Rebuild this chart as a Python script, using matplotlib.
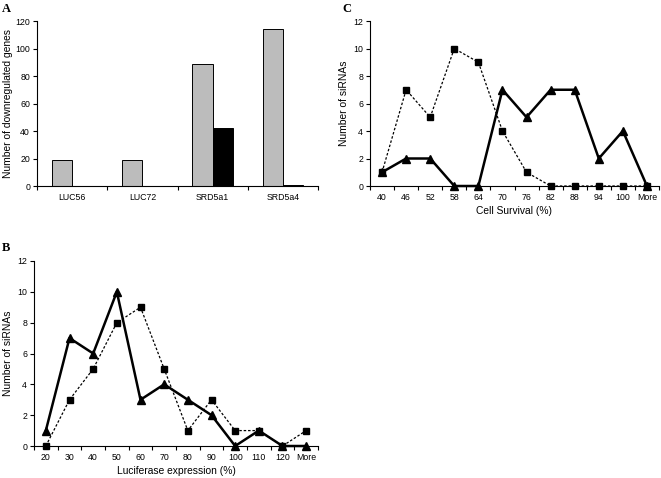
import numpy as np
import matplotlib
matplotlib.use("Agg")
import matplotlib.pyplot as plt

plt.rcParams['font.family'] = ['Liberation Sans', 'DejaVu Sans']

# Panel A data
genes = ['LUC56', 'LUC72', 'SRD5a1', 'SRD5a4']
gray_counts = [19, 19, 89, 114]
black_counts = [0, 0, 42, 1]

# Panel B data
lucif_labels = ['20', '30', '40', '50', '60', '70', '80', '90', '100', '110', '120', 'More']
lucif_squares = [0, 3, 5, 8, 9, 5, 1, 3, 1, 1, 0, 1]
lucif_triangles = [1, 7, 6, 10, 3, 4, 3, 2, 0, 1, 0, 0]

# Panel C data
surv_labels = ['40', '46', '52', '58', '64', '70', '76', '82', '88', '94', '100', 'More']
surv_squares = [1, 7, 5, 10, 9, 4, 1, 0, 0, 0, 0, 0]
surv_triangles = [1, 2, 2, 0, 0, 7, 5, 7, 7, 2, 4, 0]

W, H = 661, 478
fig = plt.figure(figsize=(W / 100, H / 100), dpi=100)

TICK_FS = 6.3
LABEL_FS = 7.4


def px_axes(x0, y0, x1, y1):
    return fig.add_axes([x0 / W, 1 - y1 / H, (x1 - x0) / W, (y1 - y0) / H])


def style(ax):
    for s in ['top', 'right']:
        ax.spines[s].set_visible(False)
    for s in ['left', 'bottom']:
        ax.spines[s].set_linewidth(0.8)
    ax.tick_params(axis='both', which='major', direction='out', length=3,
                   width=0.8, labelsize=TICK_FS, pad=2)


def category_axis(ax, labels):
    n = len(labels)
    ax.set_xlim(-0.5, n - 0.5)
    ax.set_xticks(np.arange(n + 1) - 0.5)
    ax.set_xticklabels([])
    ax.set_xticks(np.arange(n), minor=True)
    ax.set_xticklabels(labels, minor=True, fontsize=TICK_FS)
    ax.tick_params(axis='x', which='minor', length=0, pad=5)


# ---- A ----
axA = px_axes(37, 21, 318, 186)
x = np.arange(len(genes))
bw = 0.29
axA.bar(x - bw / 2, gray_counts, bw, color='#bcbcbc', edgecolor='black', linewidth=0.7)
axA.bar(x + bw / 2, black_counts, bw, color='black', edgecolor='black', linewidth=0.7)
axA.set_ylim(0, 120)
axA.set_yticks(range(0, 121, 20))
style(axA)
category_axis(axA, genes)
axA.set_ylabel('Number of downregulated genes', fontsize=LABEL_FS, labelpad=2)


def line_panel(ax, labels, squares, triangles, xlabel):
    xs = np.arange(len(labels))
    ax.plot(xs, squares, color='black', linestyle=(0, (2, 1.5)), linewidth=0.9,
            marker='s', markersize=4, clip_on=False, zorder=3)
    ax.plot(xs, triangles, color='black', linestyle='-', linewidth=1.8,
            marker='^', markersize=6, clip_on=False, zorder=4)
    ax.set_ylim(0, 12)
    ax.set_yticks(range(0, 13, 2))
    style(ax)
    category_axis(ax, labels)
    ax.set_ylabel('Number of siRNAs', fontsize=LABEL_FS, labelpad=3)
    ax.set_xlabel(xlabel, fontsize=LABEL_FS, labelpad=3)


# ---- B ----
axB = px_axes(34, 261, 318, 446)
line_panel(axB, lucif_labels, lucif_squares, lucif_triangles, 'Luciferase expression (%)')

# ---- C ----
axC = px_axes(370, 21, 659, 186)
line_panel(axC, surv_labels, surv_squares, surv_triangles, 'Cell Survival (%)')

# panel letters
for lbl, px, py in [('A', 2, 9), ('B', 2, 248), ('C', 342, 9)]:
    fig.text(px / W, 1 - py / H, lbl, fontsize=9, fontweight='bold',
             family='Liberation Serif', va='center', ha='left')

fig.savefig('out.png', dpi=100)
